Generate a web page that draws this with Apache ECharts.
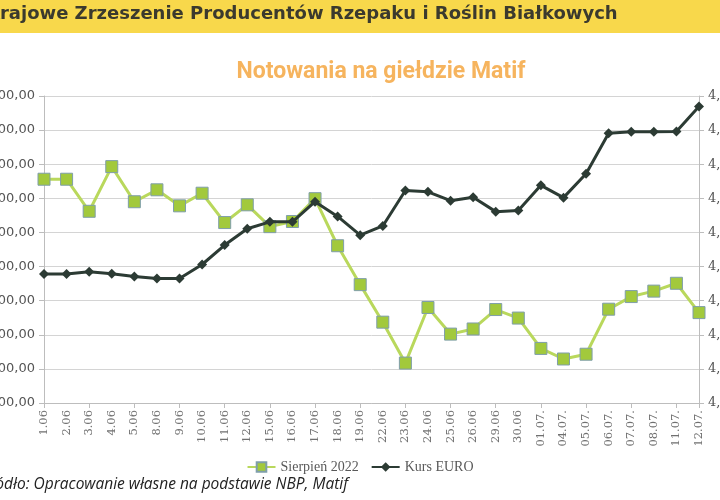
<!DOCTYPE html>
<html>
<head>
<meta charset="utf-8">
<title>Notowania na giełdzie Matif</title>
<script src="https://cdn.jsdelivr.net/npm/echarts@6/dist/echarts.min.js"></script>
<style>
	html,body{margin:0;padding:0;background:#fff;}
	#chart{width:720px;height:500px;}
</style>
</head>
<body>
<div id="chart"></div>
<script>
// dni notowań (oś X)
var dni = ['1.06','2.06','3.06','4.06','5.06','8.06','9.06','10.06','11.06','12.06',
	'15.06','16.06','17.06','18.06','19.06','22.06','23.06','24.06','25.06','26.06',
	'29.06','30.06','01.07.','04.07.','05.07.','06.07.','07.07.','08.07.','11.07.','12.07.'];
// rzepak, kontrakt sierpień 2022 (lewa oś)
var sierpien2022 = [3656,3656,3562,3693,3590,3625,3578,3615,3529,3581,
	3517,3532,3599,3461,3347,3237,3117,3280,3202,3217,
	3274,3249,3160,3129,3143,3275,3312,3328,3351,3265];
// kurs EUR/PLN (prawa oś)
var kursEuro = [4.589,4.589,4.5925,4.5895,4.5855,4.5825,4.5825,4.603,4.6315,4.6555,
	4.6655,4.6655,4.695,4.6735,4.646,4.6595,4.7115,4.7095,4.6965,4.7015,
	4.6805,4.682,4.719,4.701,4.736,4.7955,4.7975,4.7975,4.798,4.8345];
var nazwySerii = ['Sierpień 2022','Kurs EURO'];

var myChart = echarts.init(document.getElementById('chart'));

//formatowanie liczb po polsku
function plLeft(v){
	var s = v.toFixed(2).replace('.', ',');
	return s.replace(/^(\d)(\d{3})/, '$1 $2');
}
function plRight(v){
	return v.toFixed(2).replace('.', ',');
}

var option = {
	backgroundColor: '#ffffff',
	animation: false,
	graphic: [
		{ type:'rect', left:0, top:0, shape:{width:720, height:33}, style:{fill:'#f8d84b'} },
		{ type:'text', left:-14, top:5, style:{
			text:'Krajowe Zrzeszenie Producentów Rzepaku i Roślin Białkowych',
			font:'bold 18px "DejaVu Sans"', fill:'#3b3a2e'} },
		{ type:'text', left:-19, top:477, style:{
			text:'Źródło: Opracowanie własne na podstawie NBP, Matif',
			font:'italic 15.5px "Open Sans"', fill:'#222'} }
	],
	title: {
		text: 'Notowania na giełdzie Matif',
		left: 376, top: 56, textAlign: 'center',
		textStyle: { color:'#f6b45e', fontSize:23, fontWeight:'bold', fontFamily:'"Liberation Sans Narrow", Roboto, sans-serif' }
	},
	legend: {
		data: nazwySerii,
		left: 'center', top: 455,
		itemWidth: 28, itemHeight: 12, itemGap: 12,
		textStyle: { color:'#595959', fontSize:14, fontFamily:'"Liberation Serif", serif' }
	},
	// etykiety osi wychodzą poza obraz, jak w oryginale
	grid: { left:44, right:21, top:96, bottom:97, containLabel:false, outerBoundsMode:'none' },
	xAxis: {
		type: 'category',
		data: dni,
		boundaryGap: false,
		axisLine: { lineStyle:{ color:'#bdbdbd' } },
		axisTick: { interval:1, length:5, lineStyle:{ color:'#bdbdbd' } },
		axisLabel: { rotate:90, interval:0, margin:7, color:'#707070', fontSize:11.5, fontFamily:'"DejaVu Serif", serif' }
	},
	yAxis: [
		{
			type:'value', min:3000, max:3900, interval:100,
			axisLine: { show:true, lineStyle:{ color:'#bdbdbd' } },
			axisTick: { show:true, length:5, lineStyle:{ color:'#bdbdbd' } },
			splitLine: { lineStyle:{ color:'#d4d4d4', width:1 } },
			axisLabel: { formatter:plLeft, color:'#555', fontSize:13, margin:9, fontFamily:'"DejaVu Sans", sans-serif' }
		},
		{
			type:'value', min:4.40, max:4.85, interval:0.05,
			axisLine: { show:true, lineStyle:{ color:'#bdbdbd' } },
			axisTick: { show:true, length:5, lineStyle:{ color:'#bdbdbd' } },
			splitLine: { show:false },
			axisLabel: { formatter:plRight, color:'#555', fontSize:13, margin:9, fontFamily:'"DejaVu Serif", serif' }
		}
	],
	series: [
		{
			name: nazwySerii[0], type:'line', yAxisIndex:0,
			data: sierpien2022,
			symbol:'rect', symbolSize:12,
			lineStyle: { color:'#b9d85c', width:3 },
			itemStyle: { color:'#a2c93c', borderColor:'#7f9eaa', borderWidth:1 },
			z: 3
		},
		{
			name: nazwySerii[1], type:'line', yAxisIndex:1,
			data: kursEuro,
			symbol:'diamond', symbolSize:10,
			lineStyle: { color:'#2c3b34', width:3 },
			itemStyle: { color:'#2c3b34' },
			z: 4
		}
	]
};
myChart.setOption(option);
</script>
</body>
</html>
